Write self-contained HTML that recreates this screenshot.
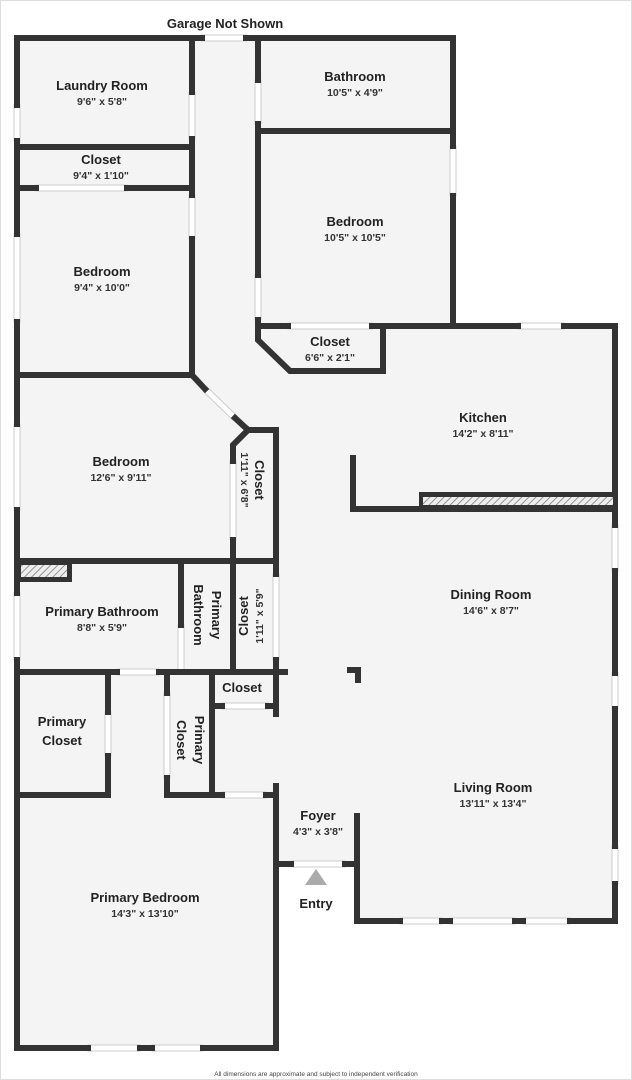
<!DOCTYPE html>
<html><head><meta charset="utf-8"><style>
html,body{margin:0;padding:0;background:#fff;}
svg{display:block;}
text{font-family:"Liberation Sans","DejaVu Sans",sans-serif;fill:#222;text-anchor:middle;}
.t{font-size:13px;font-weight:bold;}
.d{font-size:10.5px;font-weight:bold;fill:#333;}
</style></head><body>
<svg width="632" height="1080" viewBox="0 0 632 1080" xmlns="http://www.w3.org/2000/svg">
<defs>
<pattern id="h" width="5" height="5" patternUnits="userSpaceOnUse" patternTransform="rotate(45)">
<rect width="5" height="5" fill="#eee"/><line x1="0" y1="0" x2="0" y2="5" stroke="#777" stroke-width="1.5"/></pattern>
</defs>
<rect x="0.5" y="0.5" width="631" height="1079" fill="#fff" stroke="#ddd"/>
<polygon points="17,38 455,38 455,326 615,326 615,921 357,921 357,864 276,864 276,1048 17,1048" fill="#f4f4f4"/>
<g fill="#fff" stroke="#ccc" stroke-width="1">
<rect x="202" y="35" width="44" height="6"/>
<rect x="14" y="105" width="6" height="36"/>
<rect x="14" y="234" width="6" height="88"/>
<rect x="14" y="424" width="6" height="86"/>
<rect x="14" y="593" width="6" height="67"/>
<rect x="612" y="525" width="6" height="46"/>
<rect x="612" y="673" width="6" height="36"/>
<rect x="612" y="846" width="6" height="38"/>
<rect x="450" y="146" width="6" height="50"/>
<rect x="518" y="323" width="46" height="6"/>
<rect x="400" y="918" width="42" height="6"/>
<rect x="450" y="918" width="65" height="6"/>
<rect x="523" y="918" width="47" height="6"/>
<rect x="88" y="1045" width="52" height="6"/>
<rect x="152" y="1045" width="51" height="6"/>
<rect x="273" y="574" width="6" height="86"/>
<rect x="291" y="861" width="54" height="6"/>
<rect x="222" y="703" width="46" height="6"/>
<rect x="222" y="792" width="44" height="6"/>
<rect x="117" y="669" width="42" height="6"/>
<rect x="164" y="693" width="6" height="85"/>
<rect x="105" y="712" width="6" height="44"/>
<rect x="36" y="185" width="91" height="6"/>
<rect x="288" y="323" width="84" height="6"/>
<rect x="189" y="92" width="6" height="47"/>
<rect x="189" y="195" width="6" height="44"/>
<rect x="255" y="80" width="6" height="44"/>
<rect x="255" y="275" width="6" height="45"/>
<rect x="230" y="461" width="6" height="79"/>
<rect x="178" y="625" width="6" height="47"/>
</g>
<line x1="205" y1="389" x2="235" y2="418" stroke="#ccc" stroke-width="7"/>
<line x1="205" y1="389" x2="235" y2="418" stroke="#fff" stroke-width="5"/>
<g stroke="#333" stroke-width="6" fill="none" stroke-linecap="square">
<path d="M202,38 H17 V105 M17,141 V234 M17,322 V424 M17,510 V593 M17,660 V1048 H88 M140,1048 H152 M203,1048 H276 V786"/>
<path d="M246,38 H453 V146 M453,196 V326"/>
<path d="M258,326 H288 M372,326 H518 M564,326 H615 V525 M615,571 V673 M615,709 V846 M615,884 V921 H570 M523,921 H515 M450,921 H442 M400,921 H357 V816"/>
<path d="M192,38 V92 M192,139 V195 M192,239 V375"/>
<path d="M17,147 H192 M17,188 H36 M127,188 H192 M17,375 H192"/>
<path d="M192,375 L205,389 M235,418 L248,430 H276 V574 M276,660 V714 M276,672 H285"/>
<path d="M248,430 L233,445 V461 M233,540 V561"/>
<path d="M17,561 H276"/>
<path d="M17,672 H117 M159,672 H276"/>
<path d="M181,561 V625 M233,561 V672"/>
<path d="M108,672 V712 M108,756 V795 H17"/>
<path d="M167,672 V693 M167,778 V795 H222 M266,795 H276"/>
<path d="M212,672 V795 M212,706 H222 M268,706 H276"/>
<path d="M258,38 V80 M258,124 V275 M258,320 V340 L290,371 H383 V326"/>
<path d="M258,131 H453"/>
<path d="M276,864 H291 M345,864 H357"/>
<path d="M353,458 V509 H615"/>
<path d="M350,670 H358 V680"/>
</g>
<rect x="419" y="492" width="196" height="18" fill="#333"/>
<rect x="423" y="497" width="190" height="8" fill="url(#h)"/>
<rect x="17" y="561" width="55" height="21" fill="#333"/>
<rect x="21" y="565" width="46" height="12" fill="url(#h)"/>
<polygon points="316,869 305,885 327,885" fill="#aaa"/>
<text class="t" x="225" y="28">Garage Not Shown</text>
<text class="t" x="102" y="90">Laundry Room</text><text class="d" x="102" y="105">9'6" x 5'8"</text>
<text class="t" x="101" y="164">Closet</text><text class="d" x="101" y="179">9'4" x 1'10"</text>
<text class="t" x="102" y="276">Bedroom</text><text class="d" x="102" y="291">9'4" x 10'0"</text>
<text class="t" x="355" y="81">Bathroom</text><text class="d" x="355" y="96">10'5" x 4'9"</text>
<text class="t" x="355" y="226">Bedroom</text><text class="d" x="355" y="241">10'5" x 10'5"</text>
<text class="t" x="330" y="346">Closet</text><text class="d" x="330" y="361">6'6" x 2'1"</text>
<text class="t" x="483" y="422">Kitchen</text><text class="d" x="483" y="437">14'2" x 8'11"</text>
<text class="t" x="121" y="466">Bedroom</text><text class="d" x="121" y="481">12'6" x 9'11"</text>
<g transform="translate(255,480) rotate(90)"><text class="t" x="0" y="0">Closet</text><text class="d" x="0" y="14">1'11" x 6'8"</text></g>
<text class="t" x="491" y="599">Dining Room</text><text class="d" x="491" y="614">14'6" x 8'7"</text>
<text class="t" x="102" y="616">Primary Bathroom</text><text class="d" x="102" y="631">8'8" x 5'9"</text>
<g transform="translate(212,615) rotate(90)"><text class="t" x="0" y="0">Primary</text><text class="t" x="0" y="18">Bathroom</text></g>
<g transform="translate(248,616) rotate(-90)"><text class="t" x="0" y="0">Closet</text><text class="d" x="0" y="15">1'11" x 5'9"</text></g>
<text class="t" x="242" y="692">Closet</text>
<text class="t" x="62" y="726">Primary</text><text class="t" x="62" y="745">Closet</text>
<g transform="translate(195,740) rotate(90)"><text class="t" x="0" y="0">Primary</text><text class="t" x="0" y="18">Closet</text></g>
<text class="t" x="493" y="792">Living Room</text><text class="d" x="493" y="807">13'11" x 13'4"</text>
<text class="t" x="318" y="820">Foyer</text><text class="d" x="318" y="835">4'3" x 3'8"</text>
<text class="t" x="316" y="908">Entry</text>
<text class="t" x="145" y="902">Primary Bedroom</text><text class="d" x="145" y="917">14'3" x 13'10"</text>
<text x="316" y="1076" style="font-size:6.5px;fill:#444">All dimensions are approximate and subject to independent verification</text>
</svg>
</body></html>
